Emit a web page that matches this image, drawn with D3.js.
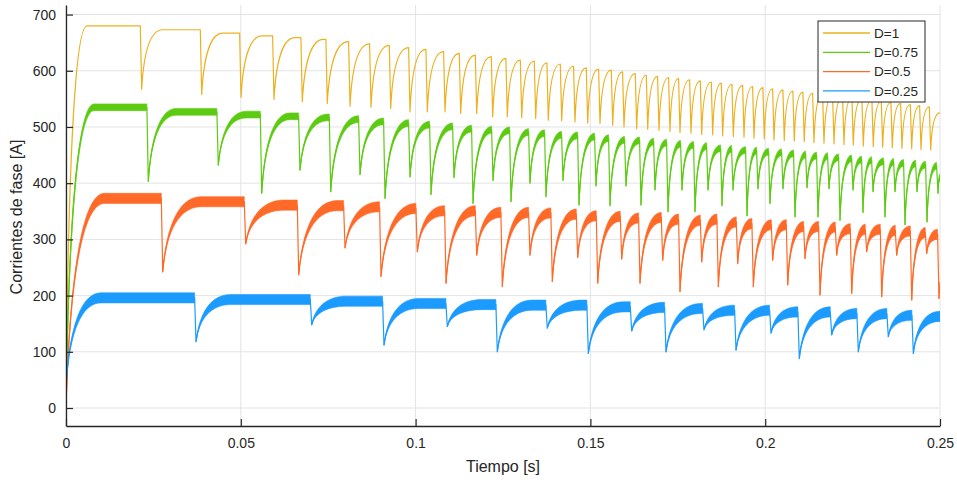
<!DOCTYPE html>
<html>
<head>
<meta charset="utf-8">
<script src="https://cdn.jsdelivr.net/npm/d3@7"></script>
<style>
  body { margin: 0; background: #fff; }
  text { font-family: "Liberation Sans", Arial, Helvetica, sans-serif; fill: #262626; }
</style>
</head>
<body>
<div class="chart"></div>
<script>
var seriesNames = ["D=1", "D=0.75", "D=0.5", "D=0.25"];
var xTicks = [0, 0.05, 0.1, 0.15, 0.2, 0.25];
var xTickLabels = ["0", "0.05", "0.1", "0.15", "0.2", "0.25"];
var yTicks = [0, 100, 200, 300, 400, 500, 600, 700];

// D=1 : dip instants [s], current at the dip bottom, current just before each dip [A]
var d1Start = 0, d1End = 525;
var d1Times = [0.02165, 0.03882, 0.05006, 0.05950, 0.06759, 0.07474, 0.08124, 0.08724, 0.09288, 0.09840,
  0.10335, 0.10841, 0.11290, 0.11748, 0.12205, 0.12623, 0.13035, 0.13435, 0.13796, 0.14179,
  0.14559, 0.14923, 0.15275, 0.15638, 0.15961, 0.16324, 0.16639, 0.16962, 0.17277, 0.17563,
  0.17878, 0.18184, 0.18498, 0.18784, 0.19088, 0.19394, 0.19680, 0.19974, 0.20252, 0.20546,
  0.20832, 0.21118, 0.21396, 0.21682, 0.21968, 0.22254, 0.22520, 0.22806, 0.23092, 0.23361,
  0.23636, 0.23913, 0.24191, 0.24457, 0.24734];
var d1Mins = [567, 558, 553, 549, 545, 542, 537, 535, 533, 527, 527, 527, 524, 524, 518, 518, 517, 515, 512, 511,
  509, 507, 506, 503, 500, 497, 496, 494, 492, 490, 489, 487, 486, 484, 483, 482, 480, 479, 477, 476,
  475, 474, 472, 471, 470, 469, 468, 466, 465, 464, 463, 462, 461, 460, 459];
var d1Peaks = [680, 673, 667, 662, 659, 656, 652, 648, 645, 641, 638, 634, 631, 628, 625, 622, 619, 617, 614, 612,
  608, 605, 603, 601, 598, 595, 592, 590, 588, 586, 584, 582, 580, 578, 576, 574, 572, 570, 568, 566,
  564, 562, 560, 558, 556, 554, 552, 550, 548, 546, 544, 542, 540, 538, 536];

// D=0.75
var d075Start = 0, d075End = 410;
var d075Times = [0.02354, 0.04356, 0.05598, 0.06693, 0.07572, 0.08410, 0.09125, 0.09840, 0.10441, 0.11098,
  0.11642, 0.12214, 0.12729, 0.13272, 0.13730, 0.14216, 0.14674, 0.15160, 0.15561, 0.16018,
  0.16447, 0.16848, 0.17220, 0.17620, 0.17992, 0.18364, 0.18764, 0.19079, 0.19480, 0.19794,
  0.20137, 0.20509, 0.20852, 0.21196, 0.21510, 0.21825, 0.22140, 0.22512, 0.22797, 0.23084,
  0.23427, 0.23713, 0.23999, 0.24342, 0.24628, 0.24943];
var d075Mins = [403, 432, 382, 423, 385, 415, 373, 411, 380, 410, 364, 405, 367, 400, 376, 405, 361, 395, 360, 395,
  361, 388, 349, 388, 349, 388, 360, 388, 342, 390, 364, 390, 340, 392, 340, 390, 334, 388, 348, 385,
  340, 385, 326, 385, 331, 382];
var d075Peaks = [535, 527, 522, 519, 517, 514, 510, 507, 504, 501, 497, 495, 494, 491, 489, 486, 485, 483, 480, 477,
  476, 474, 472, 470, 468, 466, 462, 461, 459, 458, 456, 455, 453, 451, 449, 448, 446, 444, 442, 441,
  439, 438, 436, 435, 433, 431];

// D=0.5
var d05Start = 0, d05End = 215;
var d05Times = [0.02766, 0.05140, 0.06656, 0.07981, 0.09010, 0.10049, 0.10870, 0.11748, 0.12480, 0.13272,
  0.13910, 0.14637, 0.15209, 0.15895, 0.16419, 0.17068, 0.17563, 0.18184, 0.18659, 0.19213,
  0.19660, 0.20215, 0.20644, 0.21139, 0.21568, 0.22045, 0.22474, 0.22903, 0.23332, 0.23761,
  0.24191, 0.24619, 0.24971];
var d05Mins = [242, 292, 237, 285, 234, 278, 222, 272, 216, 272, 225, 268, 222, 265, 222, 263, 207, 260, 216, 257,
  216, 263, 219, 266, 201, 272, 204, 278, 198, 272, 192, 275, 195];
var d05Peaks = [373, 367, 361, 360, 358, 355, 351, 351, 348, 348, 347, 345, 342, 341, 338, 339, 336, 334, 336, 331,
  328, 326, 326, 323, 323, 322, 319, 318, 318, 316, 315, 312, 309];

// D=0.25
var d025Start = 40, d025End = 163;
var d025Times = [0.03719, 0.07028, 0.09096, 0.10907, 0.12337, 0.13767, 0.14940, 0.16181, 0.17162, 0.18249,
  0.19165, 0.20166, 0.20975, 0.21902, 0.22663, 0.23521, 0.24237];
var d025Mins = [118, 148, 112, 145, 100, 142, 97, 137, 100, 139, 103, 133, 88, 130, 100, 127, 97];
var d025Peaks = [196, 193, 190, 186, 184, 183, 183, 180, 179, 177, 174, 174, 171, 171, 168, 168, 165];

function init() {
  var w = 957;
  var h = 482;
  var left = 66, right = 940, top = 5, bottom = 426;
  var dropT = 0.0004;

  var series = [
    { name: seriesNames[0], start: d1Start, end: d1End, times: d1Times, mins: d1Mins, peaks: d1Peaks },
    { name: seriesNames[1], start: d075Start, end: d075End, times: d075Times, mins: d075Mins, peaks: d075Peaks },
    { name: seriesNames[2], start: d05Start, end: d05End, times: d05Times, mins: d05Mins, peaks: d05Peaks },
    { name: seriesNames[3], start: d025Start, end: d025End, times: d025Times, mins: d025Mins, peaks: d025Peaks }
  ];
  // look of each trace: colour, half width of the ripple band [A], recovery time [s]
  var colors = ["#EDB120", "#5CCB12", "#FF6A29", "#1C9BFF"];
  var ripple = [0, 6, 9, 9];
  var recovery = [0.006, 0.008, 0.011, 0.010];

  var xScale = d3.scaleLinear().domain([0, 0.25]).range([left, right]);
  var yScale = d3.scaleLinear().domain([-32, 717]).range([bottom, top]);

  var svg = d3.select(".chart")
    .append("svg")
    .attr("width", w)
    .attr("height", h);

  svg.append("defs").append("clipPath")
    .attr("id", "plotClip")
    .append("rect")
    .attr("x", left)
    .attr("y", top)
    .attr("width", right - left)
    .attr("height", bottom - top);

  // grid
  svg.append("g")
    .selectAll("line")
    .data(xTicks)
    .enter()
    .append("line")
    .attr("x1", function(d) { return xScale(d); })
    .attr("x2", function(d) { return xScale(d); })
    .attr("y1", top)
    .attr("y2", bottom)
    .attr("stroke", "#e3e3e3");

  svg.append("g")
    .selectAll("line")
    .data(yTicks)
    .enter()
    .append("line")
    .attr("x1", left)
    .attr("x2", right)
    .attr("y1", function(d) { return yScale(d); })
    .attr("y2", function(d) { return yScale(d); })
    .attr("stroke", "#e3e3e3");

  function segments(s) {
    var segs = [];
    var n = s.times.length;
    segs.push({ tA: 0, vA: s.start, tB: s.times[0] - dropT, vB: s.peaks[0] });
    for (var i = 1; i < n; i++) {
      segs.push({ tA: s.times[i - 1], vA: s.mins[i - 1], tB: s.times[i] - dropT, vB: s.peaks[i] });
    }
    segs.push({ tA: s.times[n - 1], vA: s.mins[n - 1], tB: 0.25, vB: s.end });
    return segs;
  }

  function rise(p, g, R, off) {
    var r = Math.min(R, g.tB - g.tA);
    p.bezierCurveTo(xScale(g.tA + 0.1 * r), yScale(g.vA + 0.65 * (g.vB + off - g.vA)),
      xScale(g.tA + 0.45 * r), yScale(g.vB + off),
      xScale(g.tA + r), yScale(g.vB + off));
    p.lineTo(xScale(g.tB), yScale(g.vB + off));
  }

  function riseBack(p, g, R, off) {
    var r = Math.min(R, g.tB - g.tA);
    p.lineTo(xScale(g.tA + r), yScale(g.vB + off));
    p.bezierCurveTo(xScale(g.tA + 0.45 * r), yScale(g.vB + off),
      xScale(g.tA + 0.1 * r), yScale(g.vA + 0.65 * (g.vB + off - g.vA)),
      xScale(g.tA), yScale(g.vA));
  }

  var plot = svg.append("g").attr("clip-path", "url(#plotClip)");

  series.forEach(function(s, k) {
    var segs = segments(s);
    var R = recovery[k];
    var hw = ripple[k];

    if (hw > 0) {
      var band = d3.path();
      segs.forEach(function(g) {
        band.moveTo(xScale(g.tA), yScale(g.vA));
        rise(band, g, R, hw);
        band.lineTo(xScale(g.tB), yScale(g.vB - hw));
        riseBack(band, g, R, -hw);
        band.closePath();
      });
      plot.append("path")
        .attr("d", band.toString())
        .attr("fill", colors[k])
        .attr("stroke", colors[k])
        .attr("stroke-width", 0.6);
    }

    var line = d3.path();
    line.moveTo(xScale(segs[0].tA), yScale(segs[0].vA));
    segs.forEach(function(g, i) {
      rise(line, g, R, 0);
      if (i < s.times.length) {
        line.lineTo(xScale(s.times[i]), yScale(s.mins[i]));
      }
    });
    plot.append("path")
      .attr("d", line.toString())
      .attr("fill", "none")
      .attr("stroke", colors[k])
      .attr("stroke-width", 1.2)
      .attr("stroke-linejoin", "round");
  });

  // axes
  var xAxis = d3.axisBottom(xScale)
    .tickValues(xTicks)
    .tickFormat(function(d, i) { return xTickLabels[i]; })
    .tickSizeInner(-7)
    .tickSizeOuter(0)
    .tickPadding(12);

  var yAxis = d3.axisLeft(yScale)
    .tickValues(yTicks)
    .tickSizeInner(-7)
    .tickSizeOuter(0)
    .tickPadding(10);

  var gx = svg.append("g")
    .attr("transform", "translate(0," + bottom + ")")
    .call(xAxis);

  var gy = svg.append("g")
    .attr("transform", "translate(" + left + ",0)")
    .call(yAxis);

  [gx, gy].forEach(function(g) {
    g.select(".domain").attr("stroke", "#262626").attr("stroke-width", 1.3);
    g.selectAll(".tick line").attr("stroke", "#262626").attr("stroke-width", 1.2);
    g.selectAll(".tick text")
      .attr("font-size", "14px")
      .attr("font-family", "'Liberation Sans', Arial, sans-serif")
      .attr("fill", "#262626");
  });

  svg.append("text")
    .attr("x", (left + right) / 2)
    .attr("y", 472)
    .attr("text-anchor", "middle")
    .attr("font-size", "16px")
    .text("Tiempo [s]");

  svg.append("text")
    .attr("transform", "translate(22," + 217 + ") rotate(-90)")
    .attr("text-anchor", "middle")
    .attr("font-size", "16px")
    .text("Corrientes de fase [A]");

  // legend
  var legend = svg.append("g");
  legend.append("rect")
    .attr("x", 818)
    .attr("y", 21)
    .attr("width", 107)
    .attr("height", 81)
    .attr("fill", "#fff")
    .attr("stroke", "#262626")
    .attr("stroke-width", 1);

  var rows = legend.selectAll("g.row")
    .data(series)
    .enter()
    .append("g")
    .attr("class", "row")
    .attr("transform", function(d, i) { return "translate(0," + (33 + i * 19.3) + ")"; });

  rows.append("line")
    .attr("x1", 823)
    .attr("x2", 870)
    .attr("stroke", function(d, i) { return colors[i]; })
    .attr("stroke-width", 1.3);

  rows.append("text")
    .attr("x", 874)
    .attr("dy", "0.36em")
    .attr("font-size", "13.5px")
    .text(function(d) { return d.name; });
}

window.onload = init;
</script>
</body>
</html>
